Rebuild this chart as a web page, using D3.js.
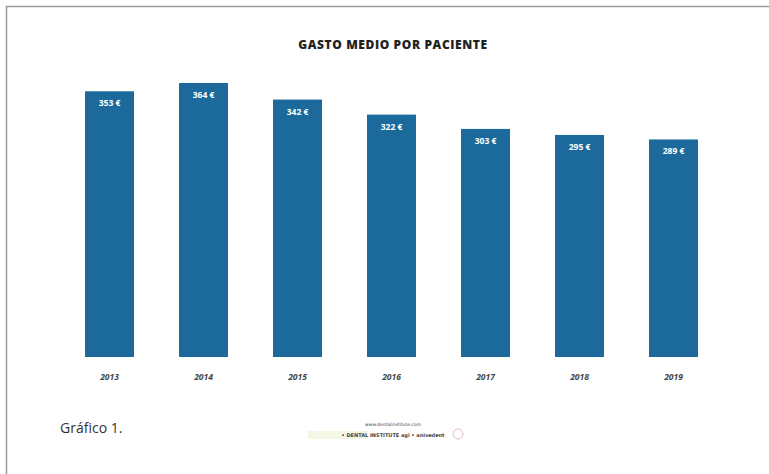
<!DOCTYPE html>
<html>
<head>
<meta charset="utf-8">
<script src="https://cdn.jsdelivr.net/npm/d3@7"></script>
<style>
  body { margin: 0; background: #fff; }
  svg { display: block; }
</style>
</head>
<body>
<svg width="769" height="474"></svg>
<script>
"use strict";

// 연도별 평균 지출 (Gasto medio por paciente)
const years = ["2013", "2014", "2015", "2016", "2017", "2018", "2019"];
const gasto = [353, 364, 342, 322, 303, 295, 289];
const titulo = "GASTO MEDIO POR PACIENTE";
const pie = "Gráfico 1.";

const svg = d3.select("svg");

// 바깥 테두리 (왼쪽, 위쪽만 보임)
svg.append("path")
  .attr("d", "M6.5,474 V6.5 H769")
  .attr("fill", "none")
  .attr("stroke", "#9a9a9a")
  .attr("stroke-width", 1.5);

const x = d3.scaleBand().domain(years).range([40, 743])
  .paddingInner(0.479).paddingOuter(0.479);
const y = d3.scaleLinear().domain([0, d3.max(gasto)]).range([357, 83]);

const data = years.map((d, i) => ({ year: d, value: gasto[i] }));

svg.append("text")
  .attr("x", 393).attr("y", 49)
  .attr("text-anchor", "middle")
  .style("font-family", "'Open Sans', sans-serif")
  .style("font-weight", 800)
  .style("font-size", "12px")
  .style("letter-spacing", "0.6px")
  .style("fill", "#222")
  .text(titulo);

svg.selectAll("rect.bar")
  .data(data)
  .enter()
  .append("rect")
  .attr("class", "bar")
  .attr("x", (d) => x(d.year))
  .attr("width", x.bandwidth())
  .attr("y", (d) => y(d.value))
  .attr("height", (d) => y(0) - y(d.value))
  .style("fill", "#1b6a9b");

svg.selectAll("text.val")
  .data(data)
  .enter()
  .append("text")
  .attr("class", "val")
  .attr("x", (d) => x(d.year) + x.bandwidth() / 2)
  .attr("y", (d) => y(d.value) + 15)
  .attr("text-anchor", "middle")
  .style("font-family", "'Open Sans', sans-serif")
  .style("font-weight", 700)
  .style("font-size", "8.5px")
  .style("fill", "#fff")
  .text((d) => d.value + " €");

// x축 라벨 (이탤릭)
const xAxis = svg.append("g")
  .attr("transform", "translate(0,357)")
  .call(d3.axisBottom(x).tickSize(0).tickPadding(17));
xAxis.select(".domain").remove();
xAxis.selectAll("text")
  .style("font-family", "'Open Sans', sans-serif")
  .style("font-style", "italic")
  .style("font-weight", 700)
  .style("font-size", "8.5px")
  .style("fill", "#444");

svg.append("text")
  .attr("x", 60).attr("y", 433)
  .style("font-family", "'Open Sans', sans-serif")
  .style("font-size", "14px")
  .style("fill", "#333")
  .text(pie);

// 하단 로고 (흐릿한 작은 글자)
const logo = svg.append("g");
logo.append("rect")
  .attr("x", 308).attr("y", 431).attr("width", 60).attr("height", 8)
  .style("fill", "#f3f7e6");
logo.append("text")
  .attr("x", 393).attr("y", 426)
  .attr("text-anchor", "middle")
  .style("font-family", "'DejaVu Sans', sans-serif")
  .style("font-size", "4.5px")
  .style("fill", "#444")
  .text("www.dentalinstitute.com");
logo.append("text")
  .attr("x", 393).attr("y", 437)
  .attr("text-anchor", "middle")
  .style("font-family", "'DejaVu Sans', sans-serif")
  .style("font-size", "5px")
  .style("font-weight", 700)
  .style("fill", "#444")
  .text("• DENTAL INSTITUTE   agi • anivedent");
logo.append("circle")
  .attr("cx", 458).attr("cy", 434).attr("r", 5)
  .style("fill", "none")
  .style("stroke", "#e4b8c4")
  .style("stroke-width", 1);
</script>
</body>
</html>
